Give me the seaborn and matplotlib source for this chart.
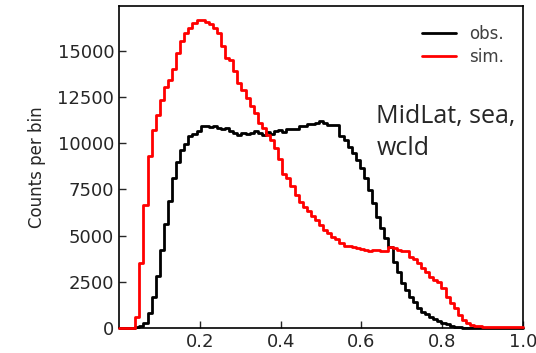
import numpy as np
import pandas as pd
import matplotlib
matplotlib.use("Agg")
import matplotlib.pyplot as plt
import seaborn as sns

# 99 bins between 0 and 1 (edges = linspace(0, 1, 100))
bin_edges = np.linspace(0, 1, 100)

obs_counts = [
    0, 0, 0, 0, 30, 125, 270, 810, 1660, 2800,
    4240, 5650, 6860, 8120, 8970, 9660, 9960, 10380, 10500, 10650,
    10960, 10920, 10870, 10920, 10850, 10780, 10850, 10650, 10560, 10470,
    10560, 10500, 10560, 10650, 10560, 10470, 10600, 10520, 10650, 10700,
    10600, 10760, 10760, 10760, 10940, 10940, 11030, 11030, 11080, 11210,
    11080, 10990, 10990, 10990, 10410, 10180, 9820, 9460, 9100, 8650,
    8110, 7470, 6750, 6030, 5400, 4860, 4400, 3590, 3050, 2420,
    2060, 1700, 1390, 1100, 880, 740, 610, 490, 380, 270,
    200, 125, 70, 40, 20, 10, 5, 0, 0, 0,
    0, 0, 0, 0, 0, 0, 0, 0, 0,
]

sim_counts = [
    0, 0, 0, 0, 600, 3520, 6680, 9300, 10700, 11550,
    12360, 13050, 13450, 14030, 14890, 15520, 15970, 16250, 16520, 16660,
    16660, 16550, 16430, 16250, 15970, 15250, 14620, 14500, 13900, 13270,
    12900, 12450, 12000, 11640, 11100, 10830, 10470, 10200, 9750, 9120,
    8350, 8100, 7700, 7200, 6840, 6570, 6340, 6060, 5850, 5580,
    5310, 5130, 4950, 4800, 4600, 4460, 4420, 4370, 4330, 4250,
    4220, 4150, 4220, 4200, 4150, 4150, 4400, 4310, 4200, 4170,
    4170, 3860, 3740, 3500, 3270, 3050, 2780, 2600, 2470, 2150,
    1700, 1340, 1070, 700, 430, 250, 160, 110, 80, 70,
    60, 55, 50, 45, 40, 35, 30, 30, 25,
]

series_labels = ["obs.", "sim."]
region_text = "MidLat, sea,\nwcld"

centers = 0.5 * (bin_edges[:-1] + bin_edges[1:])
df = pd.DataFrame({"x": centers, "obs": obs_counts, "sim": sim_counts})

sns.set_style("ticks")
plt.rcParams["font.family"] = ["DejaVu Sans"]

fig = plt.figure(figsize=(5.36, 3.53), dpi=100)
ax = fig.add_axes([0.222, 0.071, 0.754, 0.912])

sns.histplot(data=df, x="x", weights="obs", bins=list(bin_edges), element="step",
             fill=False, color="black", linewidth=2, label=series_labels[0],
             zorder=3, clip_on=False, ax=ax)
sns.histplot(data=df, x="x", weights="sim", bins=list(bin_edges), element="step",
             fill=False, color="red", linewidth=2, label=series_labels[1],
             zorder=3, clip_on=False, ax=ax)

ax.set_xlim(0, 1)
ax.set_ylim(0, 17430)
ax.set_xticks([0.2, 0.4, 0.6, 0.8, 1.0])
ax.set_yticks(np.arange(0, 15001, 2500))
ax.tick_params(direction="in", length=5, width=1, labelsize=13, colors=".15")
ax.set_xlabel("")
ax.set_ylabel("Counts per bin", fontsize=12, labelpad=8)
for s in ax.spines.values():
    s.set_color("black")
    s.set_linewidth(1.2)

leg = ax.legend(loc="upper right", frameon=False, fontsize=12, handlelength=2.0,
                handletextpad=0.8, borderaxespad=0.75, labelspacing=0.3)
for t in leg.get_texts():
    t.set_color(".25")

fig.text(0.702, 0.705, region_text, fontsize=18, family=["Open Sans"],
         va="top", ha="left", linespacing=1.38)

fig.savefig("out.png", dpi=100)
